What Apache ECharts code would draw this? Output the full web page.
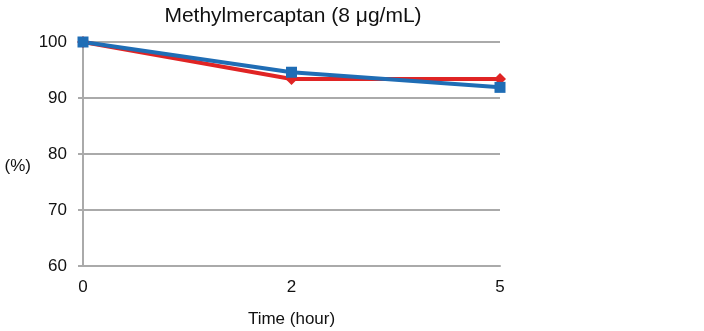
<!DOCTYPE html>
<html><head><meta charset="utf-8">
<script src="https://cdn.jsdelivr.net/npm/echarts@6/dist/echarts.min.js"></script>
<style>html,body{margin:0;padding:0;background:#fff}#c{width:704px;height:331px}</style>
</head><body><div id="c"></div>
<script>
const categories = ['0', '2', '5'];
const seriesRed = [100, 93.4, 93.4];
const seriesBlue = [100, 94.6, 91.9];
const yTicks = [60, 70, 80, 90, 100];

const font = 'Liberation Sans, Arial, sans-serif';
const chart = echarts.init(document.getElementById('c'));
chart.setOption({
  animation: false,
  title: { text: 'Methylmercaptan (8 μg/mL)', left: 288, textAlign: 'center', top: 1,
    textStyle: { fontFamily: font, fontSize: 21, fontWeight: 'normal', color: '#111' } },
  grid: { left: 83, right: 204, top: 42, bottom: 65, outerBoundsMode: 'none', containLabel: false },
  xAxis: {
    type: 'category', data: categories, boundaryGap: false,
    name: 'Time (hour)', nameLocation: 'middle', nameGap: 45,
    nameTextStyle: { fontFamily: font, fontSize: 17, color: '#111' },
    axisLine: { lineStyle: { color: '#aaa', width: 2 } },
    axisTick: { show: false },
    axisLabel: { fontFamily: font, fontSize: 17, color: '#111', margin: 13 }
  },
  yAxis: {
    type: 'value', min: yTicks[0], max: yTicks[yTicks.length - 1], interval: 10,
    name: '(%)', nameLocation: 'middle', nameRotate: 0, nameGap: 52,
    nameTextStyle: { fontFamily: font, fontSize: 17, color: '#111', verticalAlign: 'top', padding: [4, 0, 0, 0] },
    axisLine: { show: true, lineStyle: { color: '#aaa', width: 2 } },
    axisTick: { show: true, length: 5, lineStyle: { color: '#aaa', width: 2 } },
    splitLine: { lineStyle: { color: '#aaa', width: 2 } },
    axisLabel: { fontFamily: font, fontSize: 17, color: '#111', margin: 16 }
  },
  series: [
    { type: 'line', data: seriesRed, symbol: 'diamond', symbolSize: 12,
      lineStyle: { color: '#e02424', width: 4 }, itemStyle: { color: '#e02424' } },
    { type: 'line', data: seriesBlue, symbol: 'rect', symbolSize: 11,
      lineStyle: { color: '#1f6db5', width: 4 }, itemStyle: { color: '#1f6db5' } }
  ]
});
</script></body></html>
